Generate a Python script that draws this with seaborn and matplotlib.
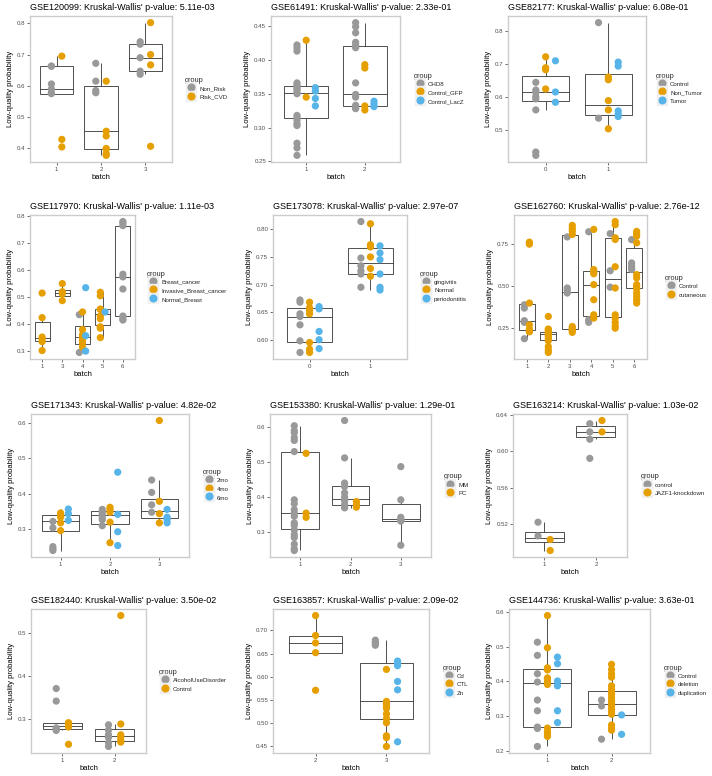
import matplotlib
matplotlib.use("Agg")
import matplotlib.pyplot as plt
import seaborn as sns
import pandas as pd
from matplotlib.lines import Line2D
from matplotlib.legend_handler import HandlerTuple

sns.set_theme(style="white")
plt.rcParams['font.family'] = ['Liberation Sans', 'DejaVu Sans']

PALETTE = ["#999999", "#E69F00", "#56B4E9"]

# ---------------- data ----------------
t1 = "GSE120099: Kruskal-Wallis' p-value: 5.11e-03"
b1 = ["1", "2", "3"]
g1 = ["Non_Risk", "Risk_CVD"]
d1 = {
    "Non_Risk": {"1": [0.663, 0.663, 0.606, 0.590, 0.578, 0.575],
                 "2": [0.672, 0.615, 0.585, 0.578],
                 "3": [0.741, 0.733, 0.690, 0.647, 0.637]},
    "Risk_CVD": {"1": [0.695, 0.429, 0.405],
                 "2": [0.615, 0.455, 0.440, 0.400, 0.398, 0.383, 0.378],
                 "3": [0.802, 0.700, 0.667, 0.407]},
}
y1 = [0.4, 0.5, 0.6, 0.7, 0.8]

t2 = "GSE61491: Kruskal-Wallis' p-value: 2.33e-01"
b2 = ["1", "2"]
g2 = ["CHD8", "Control_GFP", "Control_LacZ"]
d2 = {
    "CHD8": {"1": [0.259, 0.270, 0.277, 0.303, 0.306, 0.311, 0.315, 0.318, 0.350, 0.352,
                   0.356, 0.358, 0.361, 0.363, 0.366, 0.413, 0.418, 0.422],
             "2": [0.328, 0.329, 0.333, 0.345, 0.349, 0.366, 0.418, 0.422, 0.426, 0.440,
                   0.449, 0.455]},
    "Control_GFP": {"1": [0.429, 0.345], "2": [0.326, 0.332, 0.388, 0.393]},
    "Control_LacZ": {"1": [0.359, 0.354, 0.343, 0.332], "2": [0.331, 0.335, 0.339]},
}
y2 = [0.25, 0.30, 0.35, 0.40, 0.45]

t3 = "GSE82177: Kruskal-Wallis' p-value: 6.08e-01"
b3 = ["0", "1"]
g3 = ["Control", "Non_Tumor", "Tumor"]
d3 = {
    "Control": {"0": [0.645, 0.622, 0.615, 0.602, 0.595, 0.562, 0.435, 0.425],
                "1": [0.825, 0.537]},
    "Non_Tumor": {"0": [0.722, 0.689, 0.683, 0.625],
                  "1": [0.661, 0.653, 0.590, 0.562, 0.505]},
    "Tumor": {"0": [0.710, 0.616, 0.585],
              "1": [0.706, 0.694, 0.559, 0.549, 0.542]},
}
y3 = [0.5, 0.6, 0.7, 0.8]

t4 = "GSE117970: Kruskal-Wallis' p-value: 1.11e-03"
b4 = ["1", "3", "4", "5", "6"]
g4 = ["Breast_cancer", "Invasive_Breast_cancer", "Normal_Breast"]
d4 = {
    "Breast_cancer": {"4": [0.435, 0.295],
                      "6": [0.780, 0.775, 0.765, 0.585, 0.575, 0.530, 0.430, 0.420, 0.415]},
    "Invasive_Breast_cancer": {"1": [0.515, 0.424, 0.352, 0.345, 0.335, 0.302],
                               "3": [0.550, 0.520, 0.512, 0.487],
                               "4": [0.445, 0.380, 0.360, 0.350, 0.340, 0.330, 0.315],
                               "5": [0.518, 0.505, 0.455, 0.455, 0.430, 0.420, 0.390, 0.385, 0.350]},
    "Normal_Breast": {"4": [0.535, 0.357, 0.300], "5": [0.445]},
}
y4 = [0.3, 0.4, 0.5, 0.6, 0.7, 0.8]

t5 = "GSE173078: Kruskal-Wallis' p-value: 2.97e-07"
b5 = ["0", "1"]
g5 = ["gingivitis", "Normal", "periodontitis"]
d5 = {
    "gingivitis": {"0": [0.672, 0.668, 0.647, 0.642, 0.627, 0.598, 0.577],
                   "1": [0.814, 0.748, 0.734, 0.725, 0.719, 0.695]},
    "Normal": {"0": [0.668, 0.658, 0.653, 0.647, 0.595, 0.583, 0.577],
               "1": [0.810, 0.772, 0.768, 0.750, 0.729, 0.715]},
    "periodontitis": {"0": [0.660, 0.656, 0.615, 0.600, 0.584],
                      "1": [0.770, 0.757, 0.745, 0.719, 0.695, 0.690]},
}
y5 = [0.60, 0.65, 0.70, 0.75, 0.80]

t6 = "GSE162760: Kruskal-Wallis' p-value: 2.76e-12"
b6 = ["1", "2", "3", "4", "5", "6"]
g6 = ["Control", "cutaneous"]
d6 = {
    "Control": {"1": [0.390, 0.370, 0.295, 0.285, 0.187],
                "3": [0.795, 0.490, 0.478, 0.460],
                "4": [0.826, 0.300, 0.285],
                "5": [0.815, 0.593, 0.495],
                "6": [0.779, 0.640, 0.625, 0.610, 0.600]},
    "cutaneous": {"1": [0.764, 0.752, 0.400, 0.270, 0.245, 0.232, 0.228],
                  "2": [0.320, 0.245, 0.240, 0.230, 0.225, 0.220, 0.215, 0.210, 0.200,
                        0.190, 0.175, 0.140, 0.120, 0.105],
                  "3": [0.864, 0.845, 0.830, 0.810, 0.260, 0.250, 0.245, 0.240, 0.235, 0.225],
                  "4": [0.840, 0.600, 0.585, 0.575, 0.510, 0.420, 0.330, 0.310],
                  "5": [0.887, 0.868, 0.790, 0.780, 0.617, 0.490, 0.330, 0.310, 0.285,
                        0.265, 0.250],
                  "6": [0.828, 0.815, 0.800, 0.760, 0.570, 0.550, 0.510, 0.500, 0.485,
                        0.460, 0.440, 0.420, 0.400]},
}
y6 = [0.25, 0.50, 0.75]

t7 = "GSE171343: Kruskal-Wallis' p-value: 4.82e-02"
b7 = ["1", "2", "3"]
g7 = ["2mo", "4mo", "6mo"]
d7 = {
    "2mo": {"1": [0.322, 0.304, 0.251, 0.244, 0.240],
            "2": [0.356, 0.348, 0.341, 0.334, 0.327, 0.310],
            "3": [0.439, 0.404, 0.369, 0.348]},
    "4mo": {"1": [0.346, 0.341, 0.334, 0.318, 0.296],
            "2": [0.362, 0.356, 0.348, 0.320, 0.262],
            "3": [0.607, 0.379, 0.344, 0.318]},
    "6mo": {"1": [0.357, 0.344, 0.325],
            "2": [0.461, 0.342, 0.293, 0.254],
            "3": [0.356, 0.334, 0.327, 0.318]},
}
y7 = [0.3, 0.4, 0.5, 0.6]

t8 = "GSE153380: Kruskal-Wallis' p-value: 1.29e-01"
b8 = ["1", "2", "3"]
g8 = ["MM", "PC"]
d8 = {
    "MM": {"1": [0.604, 0.590, 0.584, 0.570, 0.562, 0.530, 0.392, 0.381, 0.364, 0.354,
                 0.345, 0.326, 0.319, 0.306, 0.293, 0.284, 0.265, 0.252, 0.247],
           "2": [0.619, 0.512, 0.440, 0.430, 0.412, 0.400, 0.390, 0.378, 0.369],
           "3": [0.487, 0.392, 0.342, 0.335, 0.331, 0.262]},
    "PC": {"1": [0.525, 0.354, 0.342], "2": [0.387, 0.378, 0.371]},
}
y8 = [0.3, 0.4, 0.5, 0.6]

t9 = "GSE163214: Kruskal-Wallis' p-value: 1.03e-02"
b9 = ["1", "2"]
g9 = ["control", "JAZF1-knockdown"]
d9 = {
    "control": {"1": [0.522, 0.507], "2": [0.630, 0.621, 0.613, 0.592]},
    "JAZF1-knockdown": {"1": [0.503, 0.491], "2": [0.6335, 0.621]},
}
y9 = [0.52, 0.56, 0.60, 0.64]

t10 = "GSE182440: Kruskal-Wallis' p-value: 3.50e-02"
b10 = ["1", "2"]
g10 = ["AlcoholUseDisorder", "Control"]
d10 = {
    "AlcoholUseDisorder": {"1": [0.371, 0.342, 0.280, 0.278, 0.274],
                           "2": [0.287, 0.275, 0.264, 0.258, 0.246, 0.237]},
    "Control": {"1": [0.292, 0.290, 0.287, 0.282, 0.242],
                "2": [0.540, 0.289, 0.264, 0.259, 0.252, 0.247]},
}
y10 = [0.3, 0.4, 0.5]

t11 = "GSE163857: Kruskal-Wallis' p-value: 2.09e-02"
b11 = ["2", "3"]
g11 = ["Cd", "CTL", "Zn"]
d11 = {
    "Cd": {"3": [0.679, 0.675, 0.672, 0.668]},
    "CTL": {"2": [0.732, 0.689, 0.673, 0.652, 0.571],
            "3": [0.616, 0.547, 0.542, 0.538, 0.532, 0.520, 0.510, 0.501, 0.473, 0.469, 0.450]},
    "Zn": {"3": [0.634, 0.629, 0.624, 0.590, 0.572, 0.460]},
}
y11 = [0.45, 0.50, 0.55, 0.60, 0.65, 0.70]

t12 = "GSE144736: Kruskal-Wallis' p-value: 3.63e-01"
b12 = ["1", "2"]
g12 = ["Control", "deletion", "duplication"]
d12 = {
    "Control": {"1": [0.513, 0.475, 0.422, 0.398, 0.346, 0.315, 0.268, 0.266, 0.264, 0.212],
                "2": [0.346, 0.329, 0.233]},
    "deletion": {"1": [0.590, 0.497, 0.439, 0.433, 0.410, 0.406, 0.398, 0.391, 0.265,
                       0.255, 0.248, 0.241],
                 "2": [0.449, 0.434, 0.422, 0.412, 0.387, 0.377, 0.369, 0.363, 0.353, 0.344,
                       0.336, 0.329, 0.320, 0.312, 0.305, 0.274, 0.265, 0.259]},
    "duplication": {"1": [0.470, 0.451, 0.401, 0.387, 0.315, 0.281],
                    "2": [0.303, 0.247]},
}
y12 = [0.2, 0.3, 0.4, 0.5, 0.6]

PANELS = [
    (t1, b1, g1, d1, y1), (t2, b2, g2, d2, y2), (t3, b3, g3, d3, y3),
    (t4, b4, g4, d4, y4), (t5, b5, g5, d5, y5), (t6, b6, g6, d6, y6),
    (t7, b7, g7, d7, y7), (t8, b8, g8, d8, y8), (t9, b9, g9, d9, y9),
    (t10, b10, g10, d10, y10), (t11, b11, g11, d11, y11), (t12, b12, g12, d12, y12),
]

# ---------------- layout (pixels) ----------------
W, H = 712, 776
ROWS = [(16, 162), (215, 359), (414, 557), (609, 753)]
# (panel left, panel right, legend left)
COLS = [
    (30, 172, 185), (271, 400, 414), (508, 646, 656),
    (30, 135, 147), (273, 407, 420), (514, 647, 665),
    (31, 189, 203), (270, 431, 444), (513, 627, 641),
    (31, 146, 159), (273, 429, 443), (509, 650, 664),
]
DODGE = 0.47
BOXC = "#333333"

fig = plt.figure(figsize=(W / 100, H / 100), dpi=100)
fig.patch.set_facecolor("white")

for idx, (title, batches, groups, data, yticks) in enumerate(PANELS):
    top, bot = ROWS[idx // 3]
    left, right, legx = COLS[idx]
    ax = fig.add_axes([left / W, 1 - bot / H, (right - left) / W, (bot - top) / H])

    rows = []
    for bi, b in enumerate(batches):
        present = [g for g in groups if data[g].get(b)]
        k = len(present)
        for gi, g in enumerate(present):
            off = -DODGE / 2 + (gi + 0.5) * DODGE / k
            for v in data[g][b]:
                rows.append((bi, bi + off, g, v))
    df = pd.DataFrame(rows, columns=["pos", "x", "group", "value"])

    sns.boxplot(data=df, x="pos", y="value", native_scale=True, color="white",
                saturation=1, linecolor=BOXC, linewidth=0.6, width=0.75,
                whis=1.5, showfliers=False, showcaps=False, ax=ax, zorder=2)
    pal = dict(zip(groups, PALETTE))
    sns.scatterplot(data=df, x="x", y="value", hue="group", hue_order=groups,
                    palette=pal, s=27, edgecolor="none", linewidth=0,
                    legend=False, ax=ax, zorder=3)

    vmin, vmax = df["value"].min(), df["value"].max()
    r = vmax - vmin
    ax.set_ylim(vmin - 0.05 * r, vmax + 0.05 * r)
    ax.set_xlim(-0.6, len(batches) - 1 + 0.6)
    ax.set_xticks(range(len(batches)))
    ax.set_xticklabels(batches)
    ax.set_yticks(yticks)
    ax.set_yticklabels([f"{t:.2f}" if any(round(y * 100) % 10 for y in yticks) else f"{t:.1f}"
                        for t in yticks])

    for sp in ax.spines.values():
        sp.set_visible(True)
        sp.set_color("#cccccc")
        sp.set_linewidth(1.0)
    ax.tick_params(axis="both", which="both", length=2, width=0.5, color="#333333",
                   labelsize=4.4, labelcolor="#4d4d4d", pad=1.5,
                   bottom=True, left=True, top=False, right=False)
    ax.set_title(title, loc="left", fontsize=6.5, pad=4, color="black")
    ax.set_xlabel("batch", fontsize=5.5, labelpad=1.5, color="black")
    ax.set_ylabel("Low-quality probability", fontsize=5.5, labelpad=2, color="black")

    handles = [(Line2D([], [], marker="s", markersize=7.5, color="#f0f0f0", linestyle="none"),
                Line2D([], [], marker="o", markersize=4.8, color=pal[g], linestyle="none"))
               for g in groups]
    leg = ax.legend(handles=handles, labels=groups, title="group",
                    loc="center left",
                    bbox_to_anchor=(legx / W, 1 - ((top + bot) / 2) / H),
                    bbox_transform=fig.transFigure, frameon=False,
                    fontsize=4.4, title_fontsize=5.3, handlelength=1.8,
                    handleheight=1.8, handletextpad=0.5, labelspacing=0.0,
                    borderpad=0, borderaxespad=0, alignment="left",
                    handler_map={tuple: HandlerTuple(ndivide=1)})

fig.savefig("out.png", dpi=100, facecolor="white")
